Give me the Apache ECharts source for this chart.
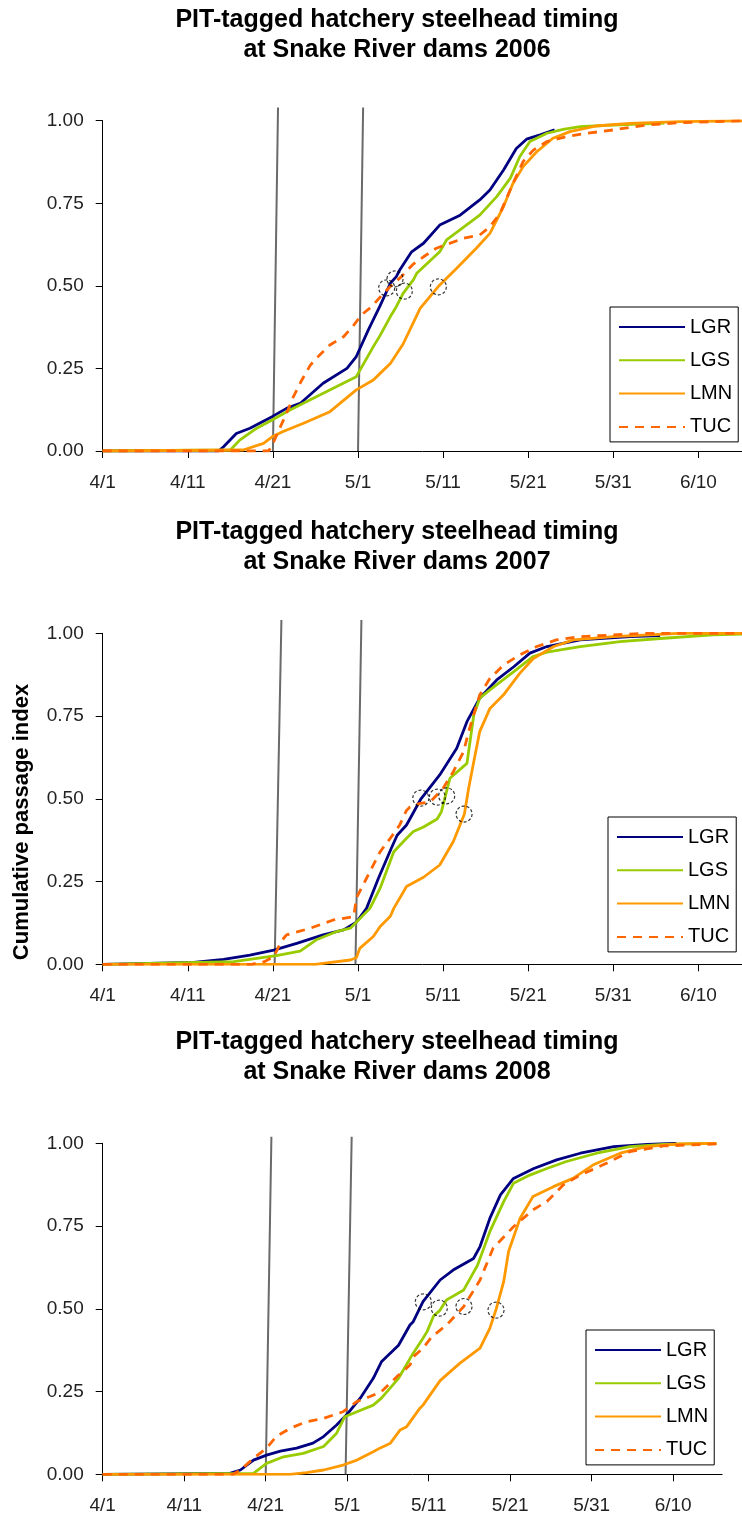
<!DOCTYPE html>
<html>
<head>
<meta charset="utf-8">
<script src="https://cdn.jsdelivr.net/npm/echarts@6/dist/echarts.min.js"></script>
<style>
html,body{margin:0;padding:0;background:#fff;}
#chart{width:742px;height:1517px;}
</style>
</head>
<body>
<div id="chart"></div>
<script>
// ---- tick labels (x axis: days since 4/1) ----
const xTickDays = [0, 10, 20, 30, 40, 50, 60, 70];
const xTickLabels = ['4/1', '4/11', '4/21', '5/1', '5/11', '5/21', '5/31', '6/10'];
const yTicks = [0, 0.25, 0.5, 0.75, 1];
const seriesNames = ['LGR', 'LGS', 'LMN', 'TUC'];
const years = ['2006', '2007', '2008'];
const yAxisTitle = 'Cumulative passage index';

// ---- 2006 ----
const LGR_2006 = [[0,0],[13.6,0],[14.2,0.013],[15.7,0.053],[17.3,0.069],[19.9,0.104],[21.6,0.129],[23.2,0.144],[25.9,0.205],[28.7,0.25],[29.8,0.286],[31.2,0.366],[32.6,0.44],[33.8,0.508],[34.5,0.528],[34.9,0.548],[36.3,0.603],[37.7,0.629],[39.6,0.684],[42.0,0.714],[44.3,0.76],[45.5,0.79],[47.1,0.851],[48.6,0.916],[49.8,0.944],[51.4,0.957],[53.1,0.972]];
const LGS_2006 = [[0,0],[15.0,0.003],[16.1,0.033],[18.1,0.069],[19.9,0.094],[22.0,0.124],[25.1,0.164],[27.5,0.195],[29.8,0.225],[31.8,0.316],[32.6,0.35],[33.8,0.407],[34.5,0.437],[35.3,0.477],[36.5,0.518],[36.9,0.538],[39.6,0.603],[40.4,0.639],[44.3,0.714],[46.3,0.77],[47.9,0.826],[49.0,0.891],[50.2,0.937],[52.2,0.962],[54.1,0.974],[56.1,0.982],[60.0,0.987],[66.0,0.993]];
const LMN_2006 = [[0,0],[16.5,0.003],[18.9,0.023],[19.9,0.043],[21.2,0.059],[23.6,0.084],[26.7,0.119],[29.8,0.185],[31.8,0.215],[32.6,0.235],[33.8,0.265],[35.3,0.324],[37.3,0.432],[39.4,0.497],[41.6,0.553],[43.9,0.614],[45.5,0.659],[47.1,0.74],[48.2,0.81],[49.4,0.861],[51.0,0.906],[52.9,0.947],[54.9,0.967],[58.0,0.984],[61.9,0.992],[67.9,0.997],[76,1.0]];
const TUC_2006 = [[0,0],[19.5,0],[20.1,0.028],[20.8,0.069],[21.6,0.114],[22.4,0.164],[23.4,0.215],[24.4,0.26],[25.5,0.291],[26.7,0.321],[28.3,0.346],[29.5,0.381],[30.4,0.412],[31.6,0.437],[32.8,0.472],[34.0,0.503],[35.1,0.528],[36.5,0.566],[37.7,0.588],[39.2,0.614],[42.4,0.644],[44.3,0.654],[45.5,0.679],[46.7,0.72],[48.2,0.81],[49.4,0.876],[50.6,0.911],[52.2,0.937],[54.5,0.952],[56.9,0.962],[60.0,0.972],[63.9,0.987],[67.9,0.994],[76,1.0]];
const MID_2006 = [[33.37,0.494],[34.35,0.521],[35.44,0.484],[39.44,0.497]];
const DAM1_2006 = [[20.0,0],[20.6,1.04]];
const DAM2_2006 = [[30.0,0],[30.6,1.04]];

// ---- 2007 ----
const LGR_2007 = [[0,0],[10.7,0.006],[14.2,0.015],[17.3,0.028],[20.1,0.043],[22.8,0.063],[25.9,0.089],[28.3,0.104],[29.8,0.127],[31.0,0.169],[32.4,0.26],[33.9,0.35],[34.6,0.39],[35.7,0.421],[37.4,0.5],[39.6,0.572],[41.6,0.653],[42.8,0.733],[44.3,0.804],[46.3,0.859],[48.3,0.899],[50.2,0.94],[52.2,0.96],[56.1,0.98],[62.0,0.99],[65.5,0.993]];
const LGS_2007 = [[0,0],[15.4,0.008],[18.1,0.018],[20.4,0.026],[23.2,0.04],[25.1,0.074],[27.5,0.099],[29.1,0.109],[29.8,0.127],[31.4,0.169],[32.6,0.23],[34.2,0.34],[35.7,0.381],[36.5,0.401],[37.7,0.415],[39.3,0.439],[39.8,0.461],[40.8,0.562],[42.8,0.607],[43.6,0.753],[44.3,0.804],[45.5,0.829],[48.3,0.884],[50.6,0.93],[52.2,0.943],[56.1,0.96],[60.8,0.975],[65.9,0.985],[71.7,0.995],[76,0.998]];
const LMN_2007 = [[0,0],[25.0,0],[25.9,0.003],[29.1,0.013],[29.8,0.02],[30.2,0.048],[31.8,0.084],[32.6,0.114],[33.8,0.145],[34.2,0.169],[35.7,0.235],[37.7,0.263],[39.6,0.3],[41.2,0.371],[42.5,0.454],[43.0,0.532],[43.6,0.612],[44.3,0.703],[45.5,0.773],[47.1,0.814],[49.0,0.879],[50.6,0.924],[53.0,0.96],[55.3,0.98],[60.0,0.99],[67.8,1.0],[76,1.0]];
const TUC_2007 = [[0,0],[17.5,0],[19.0,0.008],[20.1,0.023],[21.0,0.07],[21.6,0.089],[24.4,0.109],[27.1,0.134],[29.5,0.144],[29.8,0.2],[31.0,0.26],[32.6,0.34],[33.8,0.381],[34.9,0.421],[35.7,0.465],[36.1,0.475],[37.3,0.486],[38.5,0.491],[40.0,0.532],[41.2,0.582],[42.4,0.642],[43.0,0.703],[44.3,0.814],[45.5,0.864],[47.1,0.904],[49.0,0.935],[51.0,0.96],[53.3,0.98],[56.1,0.99],[63.9,1.0],[76,1.0]];
const MID_2007 = [[37.38,0.502],[39.32,0.505],[40.42,0.509],[42.46,0.454]];
const DAM1_2007 = [[20.2,0],[21.0,1.04]];
const DAM2_2007 = [[29.7,0],[30.4,1.04]];

// ---- 2008 ----
const LGR_2008 = [[0,0],[15.6,0.003],[16.9,0.013],[18.5,0.043],[20.1,0.058],[21.8,0.07],[23.8,0.079],[25.8,0.094],[27.1,0.114],[28.7,0.149],[29.9,0.179],[31.6,0.23],[33.2,0.29],[34.2,0.34],[36.3,0.39],[37.7,0.451],[38.1,0.461],[39.3,0.522],[41.4,0.587],[43.0,0.617],[45.5,0.652],[46.3,0.688],[47.5,0.773],[48.8,0.844],[50.4,0.894],[52.9,0.924],[55.7,0.95],[58.6,0.97],[62.7,0.99],[66.8,0.997],[70.4,1.0]];
const LGS_2008 = [[0,0],[18.5,0.003],[20.1,0.033],[22.2,0.053],[24.6,0.063],[27.1,0.084],[28.7,0.124],[29.7,0.174],[31.2,0.189],[33.2,0.209],[34.2,0.23],[36.3,0.29],[38.1,0.366],[39.3,0.411],[39.8,0.431],[40.6,0.478],[41.4,0.496],[42.2,0.527],[44.3,0.557],[46.0,0.632],[47.5,0.733],[49.2,0.824],[50.4,0.879],[52.4,0.904],[54.5,0.924],[56.9,0.945],[60.6,0.97],[64.7,0.99],[68.8,0.997],[75.3,1.0]];
const LMN_2008 = [[0,0],[23.0,0],[25.0,0.005],[27.1,0.013],[29.5,0.028],[31.2,0.043],[33.2,0.068],[34.0,0.079],[35.3,0.094],[36.5,0.134],[37.3,0.144],[38.9,0.199],[39.3,0.209],[41.4,0.283],[43.8,0.335],[46.3,0.381],[47.5,0.441],[48.3,0.501],[49.2,0.582],[49.8,0.673],[51.2,0.773],[52.8,0.839],[55.3,0.869],[57.7,0.894],[60.2,0.935],[63.5,0.97],[66.7,0.99],[70.8,0.998],[75.3,1.0]];
const TUC_2008 = [[0,0],[16.0,0],[16.9,0.013],[18.5,0.048],[20.1,0.079],[21.3,0.114],[23.0,0.139],[25.0,0.159],[27.1,0.169],[29.5,0.189],[31.2,0.22],[32.8,0.235],[34.2,0.25],[36.1,0.295],[37.7,0.33],[38.1,0.355],[39.3,0.381],[40.4,0.416],[42.2,0.451],[44.3,0.507],[46.3,0.587],[47.9,0.683],[50.4,0.748],[52.8,0.799],[54.5,0.824],[56.5,0.874],[58.6,0.904],[61.4,0.935],[64.7,0.975],[68.8,0.992],[75.3,0.998]];
const MID_2008 = [[39.34,0.521],[41.3,0.502],[44.33,0.507],[48.26,0.496]];
const DAM1_2008 = [[20.0,0],[20.7,1.02]];
const DAM2_2008 = [[29.8,0],[30.55,1.02]];

const panelData = [
  {LGR: LGR_2006, LGS: LGS_2006, LMN: LMN_2006, TUC: TUC_2006, mid: MID_2006, dams: [DAM1_2006, DAM2_2006]},
  {LGR: LGR_2007, LGS: LGS_2007, LMN: LMN_2007, TUC: TUC_2007, mid: MID_2007, dams: [DAM1_2007, DAM2_2007]},
  {LGR: LGR_2008, LGS: LGS_2008, LMN: LMN_2008, TUC: TUC_2008, mid: MID_2008, dams: [DAM1_2008, DAM2_2008]}
];

// ---- layout / style (not data) ----
const FONT = '"Liberation Sans", Arial, sans-serif';
const grids = [
  {left: 102.7, top: 120.7, height: 330.3, right: -7.5},
  {left: 102.7, top: 633.3, height: 331, right: -7.5},
  {left: 102.7, top: 1143.3, height: 331, right: 19.9}
];
const titleTops = [5, 517, 1027];
const legendPos = [{left: 610, top: 307}, {left: 608, top: 817}, {left: 586, top: 1330}];
const styles = {
  LGR: {color: '#000080', type: 'solid'},
  LGS: {color: '#99CC00', type: 'solid'},
  LMN: {color: '#FF9900', type: 'solid'},
  TUC: {color: '#FF6600', type: [9, 7]}
};

const option = {
  animation: false,
  backgroundColor: '#ffffff',
  title: years.map((y, i) => ({
    text: 'PIT-tagged hatchery steelhead timing\nat Snake River dams ' + y,
    left: 397, top: titleTops[i], textAlign: 'center', padding: 0,
    textStyle: {fontFamily: FONT, fontWeight: 'bold', fontSize: 25, lineHeight: 30, color: '#000'}
  })),
  legend: years.map((y, i) => ({
    data: seriesNames,
    orient: 'vertical',
    left: legendPos[i].left, top: legendPos[i].top,
    padding: [10, 6, 5, 8],
    itemWidth: 66, itemHeight: 14, itemGap: 13.3,
    borderColor: '#000', borderWidth: 1, backgroundColor: '#fff',
    selectedMode: false,
    itemStyle: {color: 'rgba(0,0,0,0)', borderWidth: 0, opacity: 0},
    textStyle: {fontFamily: FONT, fontSize: 20, lineHeight: 20, color: '#000'}
  })),
  grid: grids.map(g => Object.assign({containLabel: false, outerBoundsMode: 'none'}, g)),
  xAxis: grids.map((g, i) => ({
    type: 'value', gridIndex: i, min: 0, max: 76, interval: 10,
    splitLine: {show: false},
    axisLine: {show: true, onZero: false, lineStyle: {color: '#000', width: 1}},
    axisTick: {show: true, length: 7, inside: false, customValues: xTickDays, lineStyle: {color: '#000'}},
    axisLabel: {show: true, margin: 22, customValues: xTickDays, fontFamily: FONT, fontSize: 19, color: '#222',
      formatter: v => { const k = xTickDays.indexOf(v); return k >= 0 ? xTickLabels[k] : ''; }}
  })),
  yAxis: grids.map((g, i) => ({
    type: 'value', gridIndex: i, min: 0, max: 1, interval: 0.25,
    splitLine: {show: false},
    axisLine: {show: true, onZero: false, lineStyle: {color: '#000', width: 1}},
    axisTick: {show: true, length: 7, lineStyle: {color: '#000'}},
    axisLabel: {margin: 19, fontFamily: FONT, fontSize: 19, color: '#222', formatter: v => v.toFixed(2)}
  })),
  graphic: [{
    type: 'text', x: 22, y: 822, rotation: Math.PI / 2,
    style: {text: yAxisTitle, align: 'center', verticalAlign: 'middle',
      font: 'bold 22px "Liberation Sans", Arial, sans-serif', fill: '#000'}
  }],
  series: []
};

panelData.forEach((p, i) => {
  p.dams.forEach(d => option.series.push({
    type: 'line', name: 'dam', xAxisIndex: i, yAxisIndex: i, data: d,
    symbol: 'none', clip: false, silent: true, z: 1,
    lineStyle: {color: '#6a6a6a', width: 2}
  }));
  seriesNames.forEach((n, k) => option.series.push({
    type: 'line', name: n, xAxisIndex: i, yAxisIndex: i, data: p[n],
    symbol: 'none', showSymbol: false, z: 2 + k,
    color: styles[n].color,
    lineStyle: {color: styles[n].color, width: 2.8, type: styles[n].type}
  }));
  option.series.push({
    type: 'scatter', name: '50% passage', xAxisIndex: i, yAxisIndex: i, data: p.mid,
    symbol: 'circle', symbolSize: 16, z: 10, silent: true,
    itemStyle: {color: 'rgba(0,0,0,0)', borderColor: '#000', borderWidth: 1.2, borderType: [3, 2]}
  });
});

const chart = echarts.init(document.getElementById('chart'), null, {renderer: 'canvas'});
chart.setOption(option);
</script>
</body>
</html>
